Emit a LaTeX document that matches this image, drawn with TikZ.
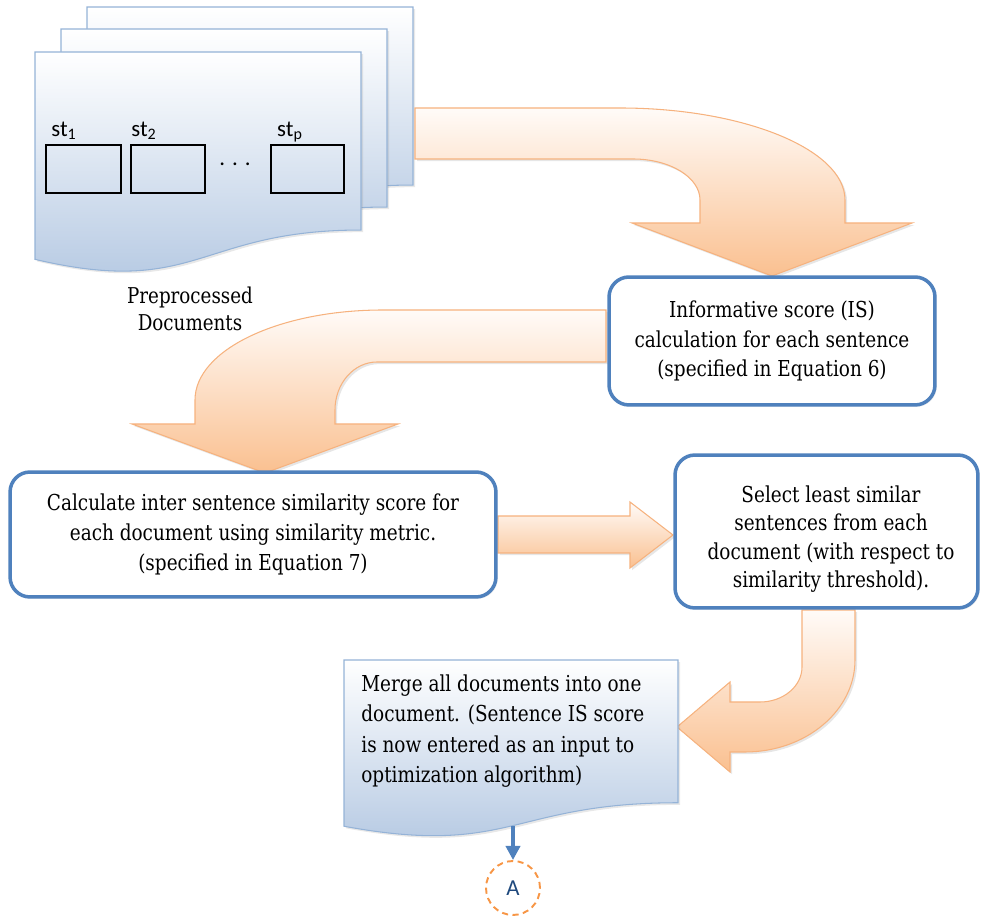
\documentclass[tikz,border=0pt]{standalone}
\usepackage{fontspec}
\setmainfont{DejaVu Serif}[FakeStretch=0.84]
\newfontfamily\dvser{DejaVu Serif}[FakeStretch=0.84]
\newfontfamily\calib{Carlito}
\usetikzlibrary{arrows.meta,shadows}
\definecolor{boxblue}{HTML}{4F81BD}
\definecolor{docedge}{HTML}{95B3D7}
\definecolor{docfill}{HTML}{B1C6E1}
\definecolor{arrfill}{HTML}{FAC090}
\definecolor{arredge}{HTML}{F6B27E}
\definecolor{arrtop}{HTML}{FFFBF8}
\definecolor{circorange}{HTML}{F79646}
\definecolor{letterblue}{HTML}{1F497D}
\tikzset{
  docpage/.style={draw=docedge, line width=0.6pt, top color=white, bottom color=docfill,
    drop shadow={opacity=0.18, shadow xshift=1.2pt, shadow yshift=-1.2pt}},
  blockarrow/.style={draw=arredge, line width=0.6pt, top color=arrtop, bottom color=arrfill,
    drop shadow={opacity=0.2, shadow xshift=1.2pt, shadow yshift=-1.2pt}},
  bluebox/.style={draw=boxblue, line width=2pt, rounded corners=0.4cm, fill=white, align=center,
    inner sep=0pt, font=\dvser\fontsize{12.5}{17}\selectfont,
    drop shadow={opacity=0.15, shadow xshift=1pt, shadow yshift=-1pt}},
  boxtext/.style={inner sep=0pt, align=center, font=\dvser\fontsize{12.5}{16.2}\selectfont},
  sbox/.style={draw=black, line width=1.1pt, inner sep=0pt, minimum height=0.96cm},
  stlab/.style={inner sep=0pt, font=\calib\fontsize{13}{15}\selectfont},
  plaintext/.style={inner sep=0pt, font=\dvser\fontsize{12.4}{15.5}\selectfont},
}
\newcommand{\docshape}[4]{%
  \draw[docpage] (#1,#2) -- ({#1+#3},#2) -- ({#1+#3},{#2+0.802*#4})
    .. controls ({#1+0.5*#3},{#2+0.802*#4}) and ({#1+0.5*#3},{#2+1.107*#4}) ..
    (#1,{#2+0.934*#4}) -- cycle;}
\begin{document}
\begin{tikzpicture}[x=0.02cm, y=-0.02cm]
\useasboundingbox (0,0) rectangle (981,918);

% stacked documents
\docshape{87}{7}{326}{222}
\docshape{61}{29}{326}{222}
\docshape{35}{52}{326}{222}

% sentence boxes
\node[sbox, minimum width=1.5cm] (s1) at (83.5,169) {};
\node[sbox, minimum width=1.48cm] (s2) at (168,169) {};
\node[sbox, minimum width=1.46cm] (sp) at (307.5,169) {};
\node[stlab] (l1) at (64,131) {st\textsubscript{1}};
\node[stlab] (l2) at (144,131) {st\textsubscript{2}};
\node[stlab] (lp) at (290,132) {st\textsubscript{p}};
\node[stlab] (dots) at (235,164) {.\hspace{4pt}.\hspace{4pt}.};

\node[plaintext, align=center] (pre) at (190,309) {Preprocessed\\Documents};

% block arrow 1 (documents -> IS)
\draw[blockarrow] (415,108) -- (620,108)
  .. controls (743,108) and (845,149.2) .. (845,200)
  -- (845,223) -- (912,223) -- (772,276) -- (632,223) -- (700,223) -- (700,200)
  .. controls (700,177.4) and (670,159) .. (633,159)
  -- (415,159) -- cycle;

% block arrow 2 (IS -> calc)
\draw[blockarrow] (606,310) -- (383,310)
  .. controls (279,310) and (195,350) .. (195,400)
  -- (195,424) -- (132,424) -- (265,473) -- (398,424) -- (335,424) -- (335,410)
  .. controls (335,383.5) and (353.8,362) .. (377,362)
  -- (606,362) -- cycle;

% block arrow 3 (calc -> select)
\draw[blockarrow] (498,516) -- (630,516) -- (630,502) -- (673,535) -- (630,568)
  -- (630,553) -- (498,553) -- cycle;

% block arrow 4 (select -> merge)
\draw[blockarrow] (802,610) -- (802,667)
  .. controls (802,686.3) and (783.2,702) .. (760,702)
  -- (730,702) -- (730,682) -- (677,727) -- (730,772) -- (730,752) -- (745,752)
  .. controls (805.7,752) and (855,710.8) .. (855,660)
  -- (855,610) -- cycle;

% process boxes
\node[bluebox, minimum width=6.52cm, minimum height=2.56cm] (is) at (772,341)
  {Informative score (IS)\\calculation for each sentence\\(specified in Equation 6)};
\node[bluebox, minimum width=9.72cm, minimum height=2.5cm] (calc) at (253,534.5)
  {Calculate inter sentence similarity score for\\each document using similarity metric.\\(specified in Equation 7)};
\node[bluebox, minimum width=6.06cm, minimum height=3.06cm] (sel) at (826.5,531.5) {};
\node[boxtext] (seltext) at (831,539)
  {Select least similar\\sentences from each\\document (with respect to\\similarity threshold).};

% merge document
\docshape{344}{660}{334}{178}
\node[anchor=north west, align=left, inner sep=0pt, font=\dvser\fontsize{12.5}{17.4}\selectfont]
  (merge) at (361,674)
  {Merge all documents into one\\document. (Sentence IS score\\is now entered as an input to\\optimization algorithm)};

% connector to A
\coordinate (mb) at (513,826);
\node[circle, draw=circorange, dash pattern=on 3.5pt off 2.5pt, line width=1.1pt,
  minimum size=1.08cm, inner sep=0pt, text=letterblue,
  font=\calib\fontsize{13}{15}\selectfont] (A) at (513,888) {A};
\draw[boxblue, line width=2pt, -{Triangle[length=8pt,width=8pt]}] (mb) -- (A);
\end{tikzpicture}
\end{document}
